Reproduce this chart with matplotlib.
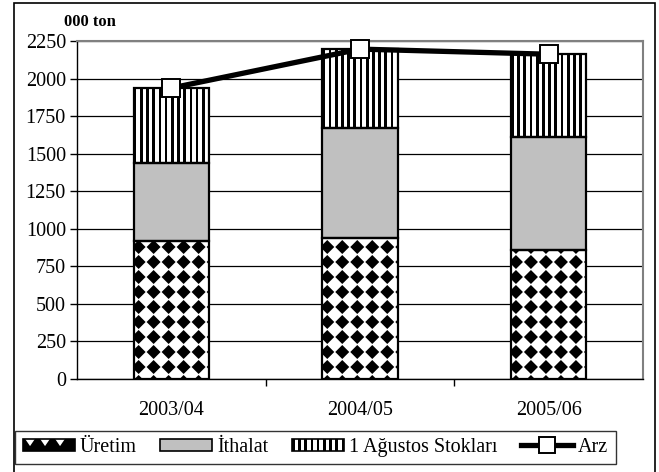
import matplotlib
matplotlib.use("Agg")
import matplotlib.pyplot as plt
from matplotlib.patches import Rectangle
from matplotlib.collections import PolyCollection
from matplotlib.legend_handler import HandlerBase
from matplotlib.lines import Line2D
import numpy as np

# data (000 ton)
seasons = ["2003/04", "2004/05", "2005/06"]
uretim = [920, 938, 860]
ithalat = [516, 733, 749]
stok = [501, 525, 553]
arz = [1937, 2196, 2162]
yticks = list(range(0, 2251, 250))
labels = ["Üretim", "İthalat", "1 Ağustos Stokları", "Arz"]

W, H, DPI = 659, 472, 100
plt.rcParams['font.family'] = ['Liberation Serif', 'DejaVu Serif']

fig = plt.figure(figsize=(W / DPI, H / DPI), dpi=DPI)
ax = fig.add_axes([77 / W, 1 - 379 / H, 566 / W, 338 / H])
ax.set_xlim(-0.5, 2.5)
ax.set_ylim(0, 2250)

# outer frame of the chart
fig.add_artist(Rectangle((14 / W, -0.02), (655 - 14) / W, 1.02 - 3 / H,
                         transform=fig.transFigure, fill=False,
                         edgecolor='black', lw=1.2))

# pixel -> data scale
sx = 3.0 / ax.bbox.width
sy = 2250.0 / ax.bbox.height


def diamond_polys(x0, y0, w, h, step, half, offx, offy, kx=1.0, ky=1.0):
    """black diamonds on a square grid, in whatever units kx/ky give"""
    polys = []
    for cx in np.arange(x0 + offx * kx - step * kx, x0 + w + step * kx, step * kx):
        for cy in np.arange(y0 + offy * ky - step * ky, y0 + h + step * ky, step * ky):
            polys.append([(cx - half * kx, cy), (cx, cy + half * ky),
                          (cx + half * kx, cy), (cx, cy - half * ky)])
    return polys


def stripe_polys(x0, y0, w, h, step, lw, offx, kx=1.0):
    polys = []
    for xx in np.arange(x0 + offx * kx, x0 + w, step * kx):
        polys.append([(xx - lw / 2 * kx, y0), (xx + lw / 2 * kx, y0),
                      (xx + lw / 2 * kx, y0 + h), (xx - lw / 2 * kx, y0 + h)])
    return polys


x = np.arange(len(seasons))
width = 0.4
bottom2 = np.array(uretim)
bottom3 = bottom2 + np.array(ithalat)

b1 = ax.bar(x, uretim, width, color='white', edgecolor='none', zorder=2)
b2 = ax.bar(x, ithalat, width, bottom=bottom2, color='#c0c0c0', edgecolor='none', zorder=2)
b3 = ax.bar(x, stok, width, bottom=bottom3, color='white', edgecolor='none', zorder=2)

# fill patterns clipped to bars
for bar in b1:
    pc = PolyCollection(diamond_polys(bar.get_x(), bar.get_y(), bar.get_width(),
                                      bar.get_height(), 15, 7, 5, 12, sx, sy),
                        facecolor='black', edgecolor='none', zorder=2.5)
    ax.add_collection(pc)
    pc.set_clip_path(bar)
for bar in b3:
    pc = PolyCollection(stripe_polys(bar.get_x(), bar.get_y(), bar.get_width(),
                                     bar.get_height(), 6.2, 2.7, 1.5, sx),
                        facecolor='black', edgecolor='none', zorder=2.5)
    ax.add_collection(pc)
    pc.set_clip_path(bar)

# bar outlines
ax.bar(x, uretim, width, fill=False, edgecolor='black', lw=1.6, zorder=3)
ax.bar(x, ithalat, width, bottom=bottom2, fill=False, edgecolor='black', lw=1.6, zorder=3)
ax.bar(x, stok, width, bottom=bottom3, fill=False, edgecolor='black', lw=1.6, zorder=3)

ax.plot(x, arz, color='black', lw=3.8, marker='s', ms=13, mfc='white',
        mec='black', mew=1.4, zorder=5, clip_on=False)

# axes styling
ax.set_yticks(yticks)
ax.yaxis.grid(True, color='black', lw=0.9)
ax.set_axisbelow(True)
ax.tick_params(axis='y', length=5, width=1, pad=3, labelsize=14.5, direction='out')
ax.set_xticks(x)
ax.set_xticklabels(seasons)
ax.set_xticks([0.5, 1.5], minor=True)
ax.tick_params(axis='x', which='major', length=0, pad=16, labelsize=14.5)
ax.tick_params(axis='x', which='minor', length=5, width=1, direction='out')
for side in ['top', 'right']:
    ax.spines[side].set_color('#808080')
    ax.spines[side].set_linewidth(1.5)
for side in ['left', 'bottom']:
    ax.spines[side].set_color('black')
    ax.spines[side].set_linewidth(1.0)

fig.text(64 / W, 1 - 22 / H, "000 ton", fontsize=12, fontweight='bold',
         va='center', ha='left')


# legend handlers for the patterned swatches
class DiamondHandler(HandlerBase):
    def create_artists(self, legend, orig_handle, xdescent, ydescent,
                       width, height, fontsize, trans):
        x0, y0 = -xdescent, -ydescent
        k = 72.0 / DPI
        rect = Rectangle((x0, y0), width, height, facecolor='black',
                         edgecolor='none', transform=trans)
        # white notches along the top edge
        notches = []
        top = y0 + height
        for cx in np.arange(x0 + 7.5 * k, x0 + width, 15 * k):
            notches.append([(cx - 5 * k, top), (cx + 5 * k, top), (cx, top - 0.6 * height)])
        pc = PolyCollection(notches, facecolor='white', edgecolor='none', transform=trans)
        pc.set_clip_path(rect)
        edge = Rectangle((x0, y0), width, height, fill=False,
                         edgecolor='black', lw=1.2, transform=trans)
        return [rect, pc, edge]


class StripeHandler(HandlerBase):
    def create_artists(self, legend, orig_handle, xdescent, ydescent,
                       width, height, fontsize, trans):
        x0, y0 = -xdescent, -ydescent
        k = 72.0 / DPI
        rect = Rectangle((x0, y0), width, height, facecolor='white',
                         edgecolor='none', transform=trans)
        pc = PolyCollection(stripe_polys(x0, y0, width, height, 6.2, 2.7, 1.5, k),
                            facecolor='black', edgecolor='none', transform=trans)
        pc.set_clip_path(rect)
        edge = Rectangle((x0, y0), width, height, fill=False,
                         edgecolor='black', lw=1.2, transform=trans)
        return [rect, pc, edge]


h1 = Rectangle((0, 0), 1, 1)
h2 = Rectangle((0, 0), 1, 1, facecolor='#c0c0c0', edgecolor='black', lw=1.2)
h3 = Rectangle((0, 0), 1, 1)
h4 = Line2D([], [], color='black', lw=3.8, marker='s', ms=12, mfc='white',
            mec='black', mew=1.4)
leg = fig.legend([h1, h2, h3, h4], labels, ncol=4, loc='center',
                 bbox_to_anchor=((16 + 615) / 2 / W, 1 - 447.5 / H),
                 handler_map={h1: DiamondHandler(), h3: StripeHandler()},
                 fontsize=14.5, frameon=True, fancybox=False, shadow=False,
                 handlelength=2.6, handleheight=0.55, handletextpad=0.25,
                 columnspacing=1.15, borderpad=0.35, borderaxespad=0)
leg.get_frame().set_edgecolor('black')
leg.get_frame().set_linewidth(1.0)

fig.savefig("out.png", dpi=DPI)
